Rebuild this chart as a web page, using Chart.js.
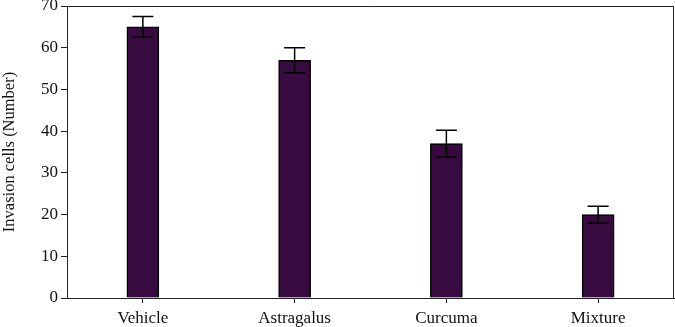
<!DOCTYPE html>
<html lang="en">
<head>
    <meta charset="UTF-8">
    <title>Invasion cells</title>
    <script src="https://cdn.jsdelivr.net/npm/chart.js"></script>
    <style>
        html, body { margin: 0; padding: 0; background: #fff; }
        .chart-container { width: 675px; height: 327px; position: relative; }
    </style>
</head>
<body>
    <div class="chart-container">
        <canvas id="chart1"></canvas>
    </div>
    <script>
        const groups = ["Vehicle", "Astragalus", "Curcuma", "Mixture"];
        const cellCounts = [65, 57, 37, 20];
        const errors = [2.5, 3, 3.2, 2];
        const yTicks = [0, 10, 20, 30, 40, 50, 60, 70];

        const serif = "'Liberation Serif', 'DejaVu Serif', serif";

        // error bars + the box round the plot
        const errorBars = {
            id: "errorBars",
            afterDatasetsDraw(chart) {
                const ctx = chart.ctx;
                const x = chart.scales.x;
                const y = chart.scales.y;
                ctx.save();
                ctx.strokeStyle = "#000";
                ctx.lineWidth = 1.5;
                cellCounts.forEach((v, i) => {
                    const cx = x.getPixelForValue(i);
                    const top = y.getPixelForValue(v + errors[i]);
                    const bot = y.getPixelForValue(v - errors[i]);
                    ctx.beginPath();
                    ctx.moveTo(cx, top);
                    ctx.lineTo(cx, bot);
                    ctx.moveTo(cx - 10.5, top);
                    ctx.lineTo(cx + 10.5, top);
                    ctx.moveTo(cx - 10.5, bot);
                    ctx.lineTo(cx + 10.5, bot);
                    ctx.stroke();
                });
                const a = chart.chartArea;
                ctx.strokeStyle = "#222";
                ctx.lineWidth = 1;
                ctx.beginPath();
                ctx.moveTo(a.left, a.top + 0.5);
                ctx.lineTo(a.right - 0.5, a.top + 0.5);
                ctx.lineTo(a.right - 0.5, a.bottom);
                ctx.stroke();
                ctx.restore();
            }
        };

        new Chart(document.getElementById("chart1"), {
            type: "bar",
            data: {
                labels: groups,
                datasets: [{
                    data: cellCounts,
                    backgroundColor: "#380b40",
                    borderColor: "#000",
                    borderWidth: 1.5,
                    barThickness: 32
                }]
            },
            options: {
                responsive: true,
                maintainAspectRatio: false,
                animation: false,
                layout: { padding: { top: 6, right: 1, left: 0, bottom: 0 } },
                plugins: { legend: { display: false }, tooltip: { enabled: false } },
                scales: {
                    x: {
                        grid: { display: true, drawOnChartArea: false, offset: false, tickLength: 5, color: "#222" },
                        border: { display: true, color: "#222", width: 1 },
                        ticks: { color: "#111", font: { family: serif, size: 17 }, padding: 5 },
                        afterFit(scale) { scale.height = 29; scale.paddingLeft = 0; scale.paddingRight = 0; }
                    },
                    y: {
                        min: 0,
                        max: 70,
                        afterBuildTicks(scale) { scale.ticks = yTicks.map(v => ({ value: v })); },
                        grid: { display: true, drawOnChartArea: false, tickLength: 6, color: "#222" },
                        border: { display: true, color: "#222", width: 1 },
                        ticks: { color: "#111", font: { family: serif, size: 17 }, padding: 3 },
                        title: {
                            display: true,
                            text: "Invasion cells (Number)",
                            color: "#111",
                            font: { family: serif, size: 16.5 },
                            padding: { top: 0, bottom: 6 }
                        },
                        afterFit(scale) { scale.width = 67; scale.paddingTop = 0; scale.paddingBottom = 0; }
                    }
                }
            },
            plugins: [errorBars]
        });
    </script>
</body>
</html>
